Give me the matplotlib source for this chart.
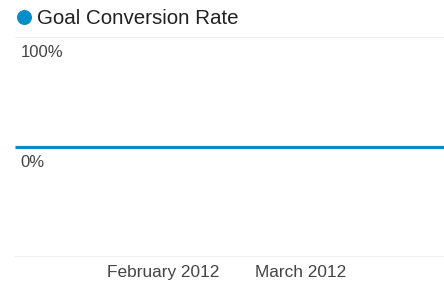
import matplotlib
matplotlib.use("Agg")
import matplotlib.pyplot as plt
from matplotlib.lines import Line2D
import pandas as pd

# flat line across the whole period, rate is 0% everywhere
dates = pd.to_datetime(["2012-01-01", "2012-03-31"])
rates = [0.0, 0.0]

tick_dates = pd.to_datetime(["2012-02-01", "2012-03-01"])
tick_labels = ["February 2012", "March 2012"]
grid_values = [100, 0, -100]
y_labels = {100: "100%", 0: "0%"}

series_name = "Goal Conversion Rate"
blue = "#058dc7"

plt.rcParams["font.family"] = ["Liberation Sans", "DejaVu Sans"]

W, H = 444, 289
fig = plt.figure(figsize=(W / 100, H / 100), dpi=100)
ax = fig.add_axes([15 / W, 32 / H, 429 / W, 220 / H])

for v in grid_values:
    ax.axhline(v, color="#eeeeee", lw=1.4, zorder=1)

ax.plot(dates, rates, color=blue, lw=2.3, solid_capstyle="butt", zorder=3)

ax.set_xlim(dates[0], dates[-1])
ax.set_ylim(-100, 100)

for v, lab in y_labels.items():
    ax.annotate(lab, xy=(0, v), xycoords=("axes fraction", "data"),
                xytext=(4, -6), textcoords="offset points",
                ha="left", va="top", fontsize=12, color="#444444")

ax.set_xticks(tick_dates)
ax.set_xticklabels(tick_labels)
ax.tick_params(axis="x", length=0, pad=6, labelsize=12.4, colors="#444444")
ax.set_yticks([])
for s in ax.spines.values():
    s.set_visible(False)

# legend at the top
fig.add_artist(Line2D([23.5 / W], [1 - 16.5 / H], marker="o", ms=10.8,
                      color=blue, mec="none", transform=fig.transFigure))
fig.text(37 / W, 1 - 24 / H, series_name, fontsize=14.8, color="#222222",
         ha="left", va="baseline")

fig.savefig("out.png", dpi=100)
